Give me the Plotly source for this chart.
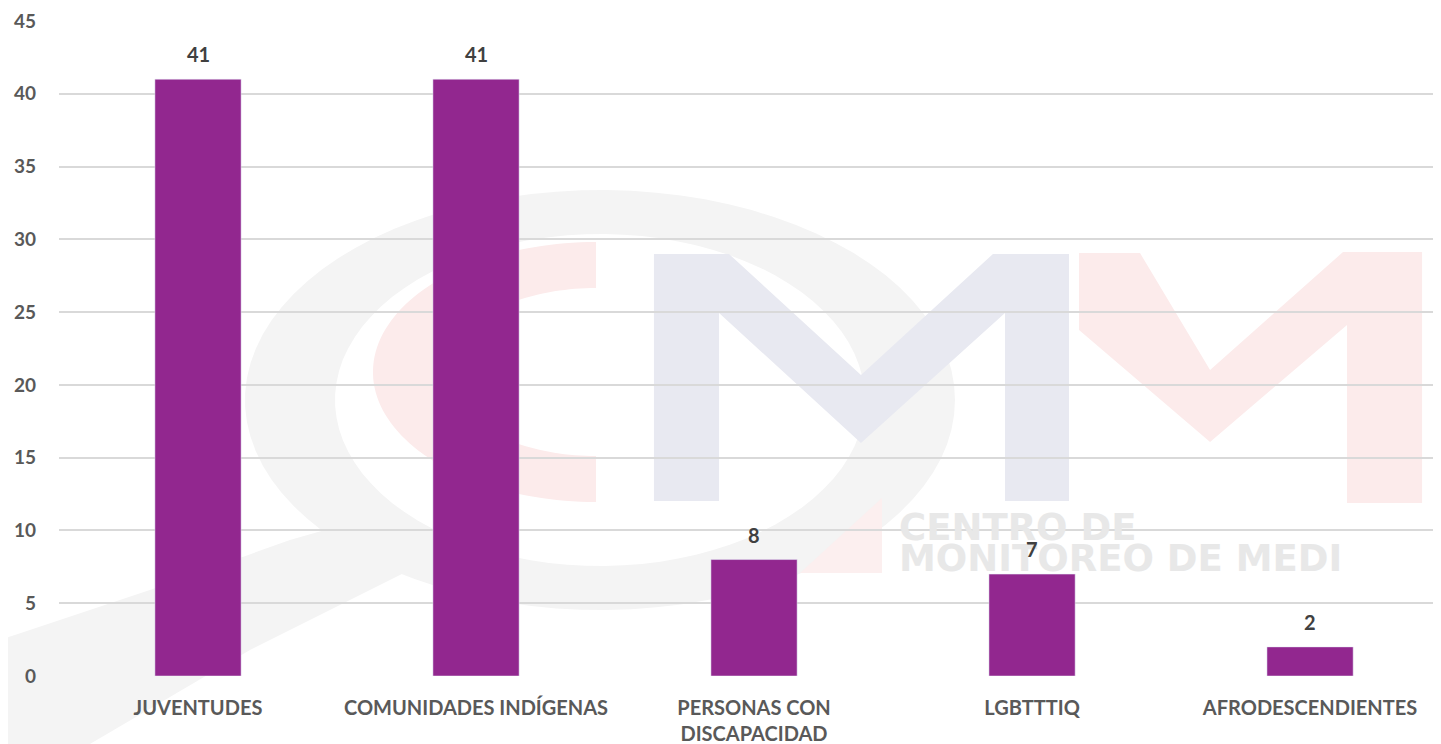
import numpy as np
import plotly.graph_objects as go

# datos
categorias = ['JUVENTUDES', 'COMUNIDADES INDÍGENAS', 'PERSONAS CON<br>DISCAPACIDAD', 'LGBTTTIQ', 'AFRODESCENDIENTES']
valores = [41, 41, 8, 7, 2]
y_ticks = [0, 5, 10, 15, 20, 25, 30, 35, 40, 45]

# la pagina tiene 8px de margen en el body
OFF = 8
W, H = 1441 - OFF, 744 - OFF
L, R, T, B = 59 - OFF, 0, 21 - OFF, 68
pw, ph = W - L - R, H - T - B

# pixel de pantalla -> paper (solo para la marca de agua del fondo)
def px(x):
    return (x - OFF - L) / pw

def py(y):
    return (H - B - (y - OFF)) / ph

def poly(pts):
    return 'M ' + ' L '.join(f'{px(a):.4f},{py(b):.4f}' for a, b in pts) + ' Z'

def elipse(cx, cy, rx, ry, a0=0, a1=360, n=90):
    t = np.radians(np.linspace(a0, a1, n))
    return [(cx + rx * np.cos(a), cy - ry * np.sin(a)) for a in t]

def forma(p, color, **kw):
    return dict(type='path', xref='paper', yref='paper', layer='below', line_width=0,
                fillcolor=color, path=p, **kw)

shapes = []
# anillo gris + cola
anillo = poly(elipse(600, 400, 355, 210)) + ' ' + poly(elipse(600, 400, 265, 166)[::-1])
shapes.append(forma(anillo, '#f4f4f4', fillrule='evenodd'))
shapes.append(forma(poly([(0, 640), (150, 590), (290, 540), (360, 520), (420, 565), (250, 650),
                          (90, 744), (0, 744)]), '#f4f4f4'))
# C rojo (media elipse)
c_rojo = elipse(596, 372, 223, 130, 90, 270) + elipse(596, 372, 150, 84, 90, 270)[::-1]
shapes.append(forma(poly(c_rojo), '#fcebeb'))
# M gris azulado
shapes.append(forma(poly([(654, 254), (729, 254), (861, 375), (993, 254), (1069, 254), (1069, 501),
                          (1005, 501), (1005, 313), (861, 443), (719, 313), (719, 501), (654, 501)]),
                    '#e8e9f1'))
# M rojo
shapes.append(forma(poly([(1079, 253), (1140, 253), (1210, 370), (1343, 252), (1422, 252), (1422, 503),
                          (1347, 503), (1347, 325), (1210, 442), (1079, 330)]), '#fcebeb'))
# pieza roja inferior
shapes.append(forma(poly([(882, 498), (882, 573), (800, 573)]), '#fcefef'))

anns = [
    dict(text='CENTRO DE', x=px(897), y=py(527)),
    dict(text='MONITOREO DE MEDI', x=px(897), y=py(558)),
]
for a in anns:
    a.update(xref='paper', yref='paper', xanchor='left', yanchor='middle', showarrow=False,
             font=dict(size=37, color='#e8e8e8', family='DejaVu Sans', weight='bold'))

# etiquetas de valor sobre las barras
for c, v in zip(categorias, valores):
    anns.append(dict(x=c, y=v, text=str(v), showarrow=False, yanchor='middle', yshift=25,
                     font=dict(size=20, color='#404040', family='Lato', weight='bold')))

fig = go.Figure()
fig.add_trace(go.Bar(x=categorias, y=valores, marker_color='#92278F'))

fig.update_layout(
    width=W, height=H,
    margin=dict(l=L, r=R, t=T, b=B),
    paper_bgcolor='white', plot_bgcolor='rgba(0,0,0,0)',
    showlegend=False, bargap=0.69,
    shapes=shapes, annotations=anns,
    font=dict(family='Lato', color='#595959'),
)
fig.update_xaxes(range=[-0.5, 4.471], showgrid=False, showline=False, zeroline=False, automargin=False,
                 tickfont=dict(size=20, color='#595959', family='Lato', weight='bold'),
                 ticks='outside', ticklen=14, tickcolor='rgba(0,0,0,0)')
fig.update_yaxes(range=[0, 45], tickvals=y_ticks, showgrid=True, gridcolor='#d9d9d9', gridwidth=2,
                 zeroline=False, showline=False, automargin=False,
                 tickfont=dict(size=19, color='#595959', family='Lato', weight='bold'),
                 ticklabelstandoff=22)

fig.write_html('out.html')
